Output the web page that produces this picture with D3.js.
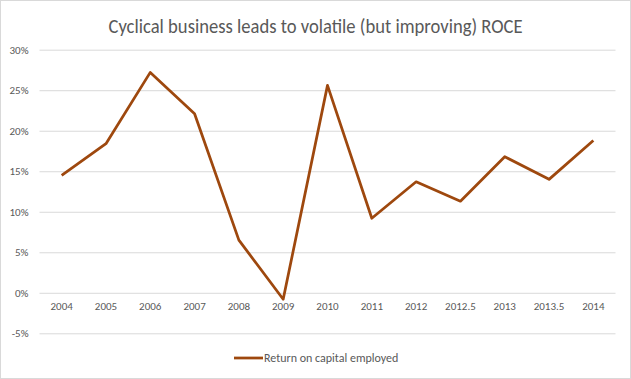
<!DOCTYPE html>
<html><head><meta charset="utf-8">
<script src="https://cdn.jsdelivr.net/npm/d3@7"></script>
<style>body{margin:0;background:#fff;}svg{display:block;}</style>
</head><body>
<script>
const categories = ["2004","2005","2006","2007","2008","2009","2010","2011","2012","2012.5","2013","2013.5","2014"];
const roce = [14.5, 18.4, 27.2, 22.1, 6.5, -0.8, 25.6, 9.2, 13.7, 11.3, 16.8, 14.0, 18.8];
const yTicks = [-5, 0, 5, 10, 15, 20, 25, 30];
const seriesName = "Return on capital employed";
const title = "Cyclical business leads to volatile (but improving) ROCE";

const W = 631, H = 379;
const font = "Carlito, Lato, 'Open Sans', 'Liberation Sans', sans-serif";
const svg = d3.select("body").append("svg").attr("width", W).attr("height", H);
svg.append("rect").attr("x",0.5).attr("y",0.5).attr("width",W-1).attr("height",H-1)
  .attr("fill","#fff").attr("stroke","#d9d9d9");

const x = d3.scaleBand().domain(categories).range([39.5, 615.5]);
const y = d3.scaleLinear().domain([-5, 30]).range([333.3, 49.7]);

svg.append("text").attr("x", 315.5).attr("y", 33).attr("text-anchor","middle")
  .attr("font-family", font).attr("font-weight", 300).attr("font-size", 20).attr("fill","#595959")
  .attr("textLength", 414).attr("lengthAdjust","spacingAndGlyphs")
  .text(title);

// gridlines
const yAxis = d3.axisLeft(y).tickValues(yTicks).tickSize(-(615.5-39.5)).tickFormat(d => d + "%").tickPadding(11);
const gy = svg.append("g").attr("transform","translate(39.5,0)").call(yAxis);
gy.select(".domain").remove();
gy.selectAll(".tick line").attr("stroke","#d9d9d9").attr("stroke-width",1);
gy.selectAll(".tick text").attr("font-family", font).attr("font-size", 11).attr("fill","#595959");

// x axis labels at fixed position below zero line
const xAxis = d3.axisBottom(x).tickSize(0).tickPadding(9);
const gx = svg.append("g").attr("transform", `translate(0,${y(0)})`).call(xAxis);
gx.select(".domain").remove();
gx.selectAll(".tick text").attr("font-family", font).attr("font-size", 11).attr("fill","#595959");

const line = d3.line().x((d,i) => x(categories[i]) + x.bandwidth()/2).y(d => y(d));
svg.append("path").datum(roce).attr("d", line).attr("fill","none")
  .attr("stroke","#9e480e").attr("stroke-width",2.75).attr("stroke-linejoin","round");

// legend
const lg = svg.append("g");
lg.append("line").attr("x1",234).attr("x2",263).attr("y1",358).attr("y2",358)
  .attr("stroke","#9e480e").attr("stroke-width",2.75);
lg.append("text").attr("x",264).attr("y",362).attr("font-family",font).attr("font-size",12)
  .attr("fill","#595959").text(seriesName);
</script>
</body></html>
